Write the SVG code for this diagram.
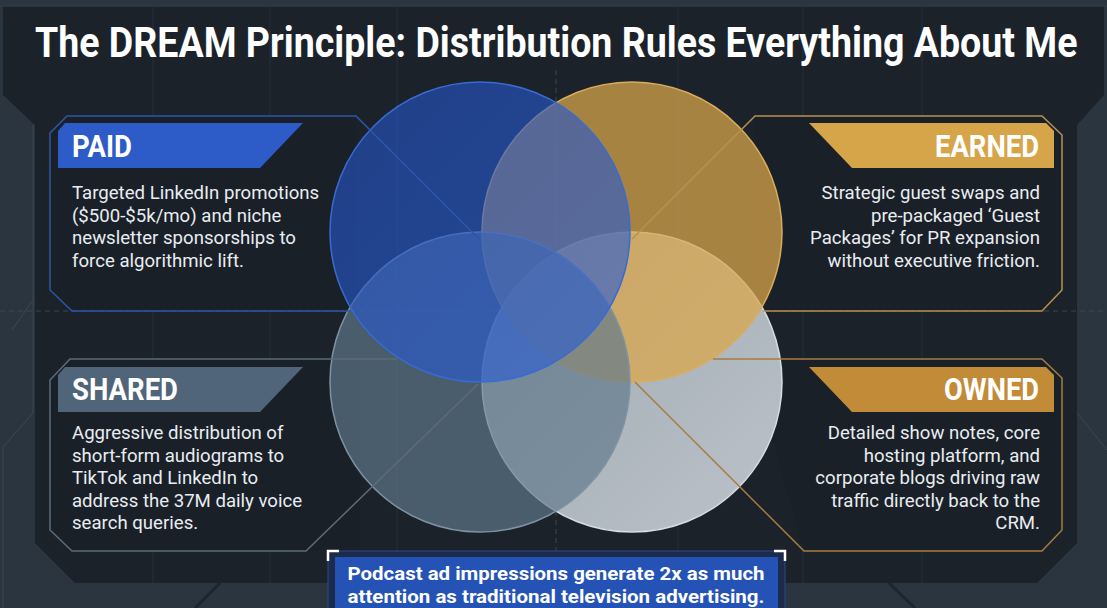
<svg xmlns="http://www.w3.org/2000/svg" width="1107" height="608" viewBox="0 0 1107 608">
<defs>
<style>
.title{font-family:Roboto,"Liberation Sans",sans-serif;font-weight:700;fill:#ffffff}
.lbl{font-family:Roboto,"Liberation Sans",sans-serif;font-weight:700;fill:#ffffff;font-size:31px}
.body{font-family:Roboto,"Liberation Sans",sans-serif;font-size:18.6px;fill:#e9edf1}
.call{font-family:Roboto,"Liberation Sans",sans-serif;font-weight:700;font-size:19px;fill:#ffffff}
.grid{stroke:#27313b;stroke-width:1}
.pfill{fill:#1a2028}
</style>
<linearGradient id="gGrey" x1="0" y1="0" x2="1" y2="1">
<stop offset="0" stop-color="#9ca5ae"/><stop offset="1" stop-color="#bcc3ca"/>
</linearGradient>
<linearGradient id="gBlue" x1="0" y1="0" x2="1" y2="1">
<stop offset="0" stop-color="#2452c4"/><stop offset="1" stop-color="#2a5fd6"/>
</linearGradient>
</defs>

<!-- background -->
<rect width="1107" height="608" fill="#2a3540"/>
<polygon points="3,6 1104,6 1104,95 1077,125 1077,543 1037,583 75,583 35,543 35,125 3,95" fill="#1b222a"/>
<path d="M0,6 H1107" stroke="#34414d" stroke-width="1"/>
<path d="M33,125 V413 L3,447 V608 M1077,413 L1107,450 M12,330 L33,300" stroke="#3a4754" stroke-width="1" fill="none"/>
<path d="M220,583 L195,608 M889,583 L915,608" stroke="#1d252d" stroke-width="3"/>
<g>
<path class="grid" d="M153,6 V583 M270,6 V583 M397,6 V583 M678,6 V583 M803,6 V583 M922,6 V583"/>
<path d="M556,70 V583" stroke="#3a4653" stroke-width="1" stroke-dasharray="5,4"/>
<path d="M0,311 H1107" stroke="#3a4653" stroke-width="1" stroke-dasharray="5,4"/>
</g>

<!-- title -->
<text class="title" transform="translate(35,57) scale(0.8,1)" x="0" y="0" font-size="42" textLength="1303" lengthAdjust="spacingAndGlyphs">The DREAM Principle: Distribution Rules Everything About Me</text>

<!-- panel fills -->
<polygon class="pfill" points="67,116 356,116 356,311 72,311 50,290 50,133"/>
<polygon class="pfill" points="755,116 1042,116 1062,135 1062,290 1042,311 760,311"/>
<polygon class="pfill" points="70,359 360,359 360,551 72,551 50,530 50,380"/>
<polygon class="pfill" points="750,359 1042,359 1062,378 1062,530 1042,551 804,551"/>

<!-- circles -->
<g id="circles">
<circle cx="632" cy="382" r="150" fill="url(#gGrey)" stroke="#d5dce3" stroke-width="1.5"/>
<circle cx="632" cy="232" r="150" fill="#dca74b" fill-opacity="0.73" stroke="#d9ad5e" stroke-width="1.5"/>
<circle cx="480" cy="382" r="150" fill="#60798c" fill-opacity="0.68" stroke="#7f93a3" stroke-width="1.5"/>
<circle cx="480" cy="232" r="150" fill="url(#gBlue)" fill-opacity="0.62" stroke="#3a6ad2" stroke-width="1.5"/>
</g>

<!-- connectors -->
<g id="connectors" fill="none" stroke-width="1.5">
<path d="M350,311 H72 L50,290 V133 L67,116 H356 L480,240" stroke="#2f56a8"/>
<path d="M763,311 H1042 L1062,290 V135 L1042,116 H755 L632,239" stroke="#b8904f"/>
<path d="M397,359 H70 L50,380 V530 L72,551 H306 L478,384" stroke="#5b6c7b"/>
<path d="M713,359 H1042 L1062,378 V530 L1042,551 H804 L635,382" stroke="#a57d40"/>
</g>

<!-- PAID -->
<g id="paid">
<polygon points="65,123 303,123 260,168 58,168 58,131" fill="#2d5bc8"/>
<text class="lbl" x="72" y="157" textLength="60" lengthAdjust="spacingAndGlyphs">PAID</text>
<text class="body" x="72" y="199">Targeted LinkedIn promotions</text>
<text class="body" x="72" y="222">($500-$5k/mo) and niche</text>
<text class="body" x="72" y="244">newsletter sponsorships to</text>
<text class="body" x="72" y="267">force algorithmic lift.</text>
</g>

<!-- EARNED -->
<g id="earned">
<polygon points="809,123 1046,123 1054,131 1054,168 852,168" fill="#d6a449"/>
<text class="lbl" x="1039" y="157" text-anchor="end" textLength="104" lengthAdjust="spacingAndGlyphs">EARNED</text>
<text class="body" x="1040" y="199" text-anchor="end">Strategic guest swaps and</text>
<text class="body" x="1040" y="222" text-anchor="end">pre-packaged ‘Guest</text>
<text class="body" x="1040" y="244" text-anchor="end">Packages’ for PR expansion</text>
<text class="body" x="1040" y="267" text-anchor="end">without executive friction.</text>
</g>

<!-- SHARED -->
<g id="shared">
<polygon points="65,367 303,367 260,412 58,412 58,375" fill="#506579"/>
<text class="lbl" x="72" y="400" textLength="106" lengthAdjust="spacingAndGlyphs">SHARED</text>
<text class="body" x="72" y="439">Aggressive distribution of</text>
<text class="body" x="72" y="462">short-form audiograms to</text>
<text class="body" x="72" y="484">TikTok and LinkedIn to</text>
<text class="body" x="72" y="507">address the 37M daily voice</text>
<text class="body" x="72" y="529">search queries.</text>
</g>

<!-- OWNED -->
<g id="owned">
<polygon points="809,367 1046,367 1054,375 1054,412 852,412" fill="#c18b38"/>
<text class="lbl" x="1039" y="400" text-anchor="end" textLength="95" lengthAdjust="spacingAndGlyphs">OWNED</text>
<text class="body" x="1040" y="439" text-anchor="end">Detailed show notes, core</text>
<text class="body" x="1040" y="462" text-anchor="end">hosting platform, and</text>
<text class="body" x="1040" y="484" text-anchor="end">corporate blogs driving raw</text>
<text class="body" x="1040" y="507" text-anchor="end">traffic directly back to the</text>
<text class="body" x="1040" y="529" text-anchor="end">CRM.</text>
</g>

<!-- callout -->
<g id="callout">
<rect x="328" y="551" width="457" height="70" fill="#1c2b4c" stroke="#2b4a8a" stroke-width="1"/>
<rect x="335" y="557" width="443" height="60" fill="#2553b5"/>
<path d="M328,561 V551 H339 M774,551 H785 V561" stroke="#ffffff" stroke-width="2.5" fill="none"/>
<text class="call" x="556" y="580" text-anchor="middle" textLength="417" lengthAdjust="spacingAndGlyphs">Podcast ad impressions generate 2x as much</text>
<text class="call" x="556" y="603" text-anchor="middle" textLength="417" lengthAdjust="spacingAndGlyphs">attention as traditional television advertising.</text>
</g>
</svg>
